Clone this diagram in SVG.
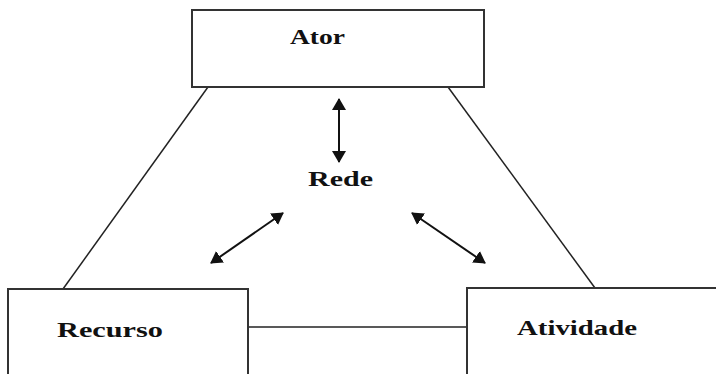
<svg xmlns="http://www.w3.org/2000/svg" width="716" height="374" viewBox="0 0 716 374">
  <style>
    .box { fill: #ffffff; stroke: #333333; stroke-width: 2; }
    .edge { fill: none; stroke: #222222; stroke-width: 1.5; }
    .arrow { fill: none; stroke: #111111; stroke-width: 2; marker-start: url(#head); marker-end: url(#head); }
    .label { font-family: "Liberation Serif", "Times New Roman", serif; font-weight: bold; font-size: 21px; fill: #111111; }
  </style>
  <defs>
    <marker id="head" viewBox="0 0 12 14" refX="11" refY="7" markerWidth="12" markerHeight="14" markerUnits="userSpaceOnUse" orient="auto-start-reverse">
      <path d="M0,0 L12,7 L0,14 Z" fill="#111111"/>
    </marker>
  </defs>
  <rect width="716" height="374" fill="#ffffff"/>

  <g id="connectors">
    <line class="edge" x1="208" y1="87" x2="63" y2="289"/>
    <line class="edge" x1="448" y1="87" x2="595" y2="288"/>
    <line class="edge" x1="248" y1="327" x2="467" y2="327"/>
    <line class="arrow" x1="339" y1="99" x2="339" y2="162"/>
    <line class="arrow" x1="283" y1="213" x2="211" y2="263"/>
    <line class="arrow" x1="412" y1="213" x2="485" y2="263"/>
  </g>

  <g id="ator">
    <rect class="box" x="192" y="10" width="292" height="77"/>
    <text class="label" x="290" y="44" textLength="55" lengthAdjust="spacingAndGlyphs">Ator</text>
  </g>

  <g id="rede">
    <text class="label" x="308" y="186" textLength="65" lengthAdjust="spacingAndGlyphs">Rede</text>
  </g>

  <g id="recurso">
    <rect class="box" x="8" y="289" width="240" height="100"/>
    <text class="label" x="57" y="337" textLength="106" lengthAdjust="spacingAndGlyphs">Recurso</text>
  </g>

  <g id="atividade">
    <rect class="box" x="467" y="288" width="260" height="100"/>
    <text class="label" x="517" y="335" textLength="120" lengthAdjust="spacingAndGlyphs">Atividade</text>
  </g>
</svg>
